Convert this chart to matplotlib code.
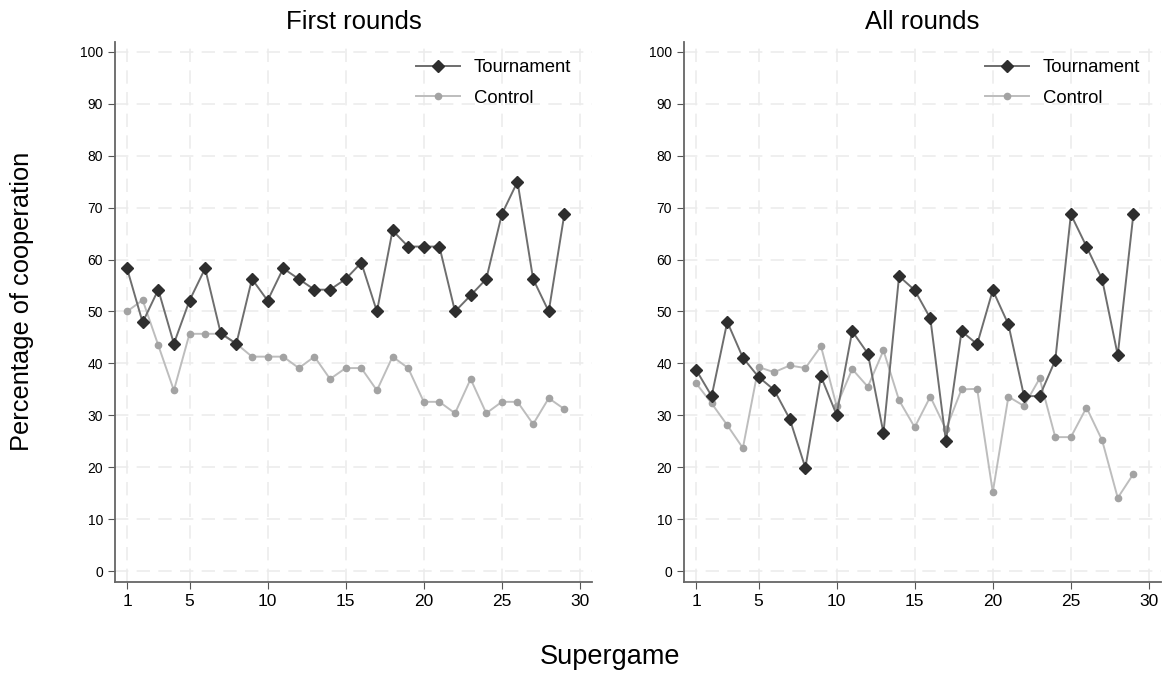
"""Cooperation by supergame: first rounds vs all rounds, tournament vs control."""
import matplotlib
matplotlib.use("Agg")
import matplotlib.pyplot as plt

plt.rcParams["font.family"] = ["Liberation Sans", "DejaVu Sans"]

supergame = list(range(1, 30))

first_tournament = [58.3, 47.9, 54.2, 43.8, 52.1, 58.3, 45.8, 43.8, 56.25, 52.1,
                    58.3, 56.25, 54.2, 54.2, 56.25, 59.4, 50.0, 65.6, 62.5, 62.5,
                    62.5, 50.0, 53.1, 56.25, 68.75, 75.0, 56.25, 50.0, 68.75]
first_control = [50.0, 52.2, 43.5, 34.8, 45.7, 45.7, 45.7, 43.8, 41.3, 41.3,
                 41.3, 39.1, 41.3, 37.0, 39.1, 39.1, 34.8, 41.3, 39.1, 32.6,
                 32.6, 30.4, 37.0, 30.4, 32.6, 32.6, 28.3, 33.3, 31.2]

all_tournament = [38.8, 33.7, 48.0, 41.1, 37.4, 34.9, 29.3, 19.9, 37.5, 30.1,
                  46.2, 41.9, 26.6, 56.8, 54.1, 48.7, 25.0, 46.2, 43.7, 54.1,
                  47.5, 33.7, 33.7, 40.6, 68.7, 62.5, 56.2, 41.6, 68.7]
all_control = [36.2, 32.3, 28.1, 23.7, 39.3, 38.3, 39.6, 39.1, 43.3, 31.8,
               38.9, 35.5, 42.5, 32.9, 27.7, 33.6, 27.3, 35.0, 35.1, 15.2,
               33.6, 31.8, 37.1, 25.8, 25.8, 31.5, 25.2, 14.1, 18.7]

PANELS = [("First rounds", first_tournament, first_control),
          ("All rounds", all_tournament, all_control)]
XTICKS = [1, 5, 10, 15, 20, 25, 30]
YTICKS = list(range(0, 101, 10))

fig = plt.figure(figsize=(11.7, 6.77), dpi=100)
lefts = [115 / 1170, 684 / 1170]
for left, (title, tour, ctrl) in zip(lefts, PANELS):
    ax = fig.add_axes([left, 1 - 582 / 677, 477 / 1170, 540 / 677])
    ax.plot(supergame, tour, color="#6e6e6e", lw=1.4, marker="D", ms=6.5,
            mfc="#2e2e2e", mec="#2e2e2e", label="Tournament", zorder=3)
    ax.plot(supergame, ctrl, color="#bdbdbd", lw=1.4, marker="o", ms=4.5,
            mfc="#a3a3a3", mec="#a3a3a3", label="Control", zorder=2)
    ax.set_xlim(0.23, 30.77)
    ax.set_ylim(-2.1, 101.9)
    ax.set_xticks(XTICKS)
    ax.set_yticks(YTICKS)
    ax.tick_params(axis="x", labelsize=12.5, color="#555555", length=5)
    ax.tick_params(axis="y", labelsize=10, color="#555555", length=5)
    for s in ("top", "right"):
        ax.spines[s].set_visible(False)
    for s in ("left", "bottom"):
        ax.spines[s].set_color("#666666")
        ax.spines[s].set_linewidth(1.3)
    ax.grid(True, color="#ececec", lw=1.2, ls=(0, (8, 5)))
    ax.set_axisbelow(True)
    ax.set_title(title, fontsize=18.5, pad=9.5)
    ax.legend(loc="upper right", frameon=False, fontsize=13.3,
              handlelength=2.4, handletextpad=0.74, labelspacing=0.75,
              bbox_to_anchor=(0.992, 1.0), borderaxespad=0.52)

fig.text(0.521, 0.03, "Supergame", ha="center", va="center", fontsize=19.5)
fig.text(0.019, 0.555, "Percentage of cooperation", ha="center", va="center",
         rotation=90, fontsize=18.3)

fig.savefig("out.png", dpi=100)
plt.close(fig)
